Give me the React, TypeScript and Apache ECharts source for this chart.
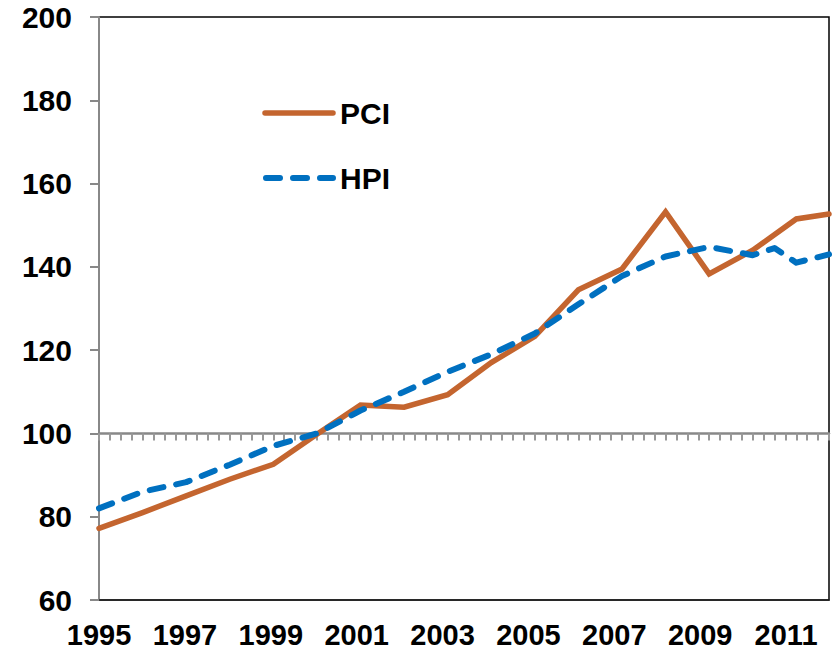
import React, { useEffect, useRef } from "react";
import * as echarts from "echarts";

const pciYears = [1995, 1996, 1997, 1998, 1999, 2000, 2001, 2002, 2003, 2004, 2005, 2006, 2007, 2008, 2009, 2010, 2011, 2011.75];
const pciValues = [77.2, 81, 85, 89, 92.6, 99.8, 106.8, 106.3, 109.3, 117, 123.3, 134.5, 139.5, 153.2, 138.3, 144, 151.5, 152.7];

const hpiYears = [1995, 1996, 1997, 1998, 1999, 2000, 2001, 2002, 2003, 2004, 2005, 2006, 2007, 2008, 2009, 2010, 2010.5, 2011, 2011.75];
const hpiValues = [82, 86, 88.3, 92.5, 97, 100, 105.5, 110, 114.8, 119, 124, 131, 137.8, 142.5, 144.8, 142.8, 144.5, 141, 143];

const yearLabels = ["1995", "1996", "1997", "1998", "1999", "2000", "2001", "2002", "2003", "2004", "2005", "2006", "2007", "2008", "2009", "2010", "2011", "2012"];

const yTicks = { min: 60, max: 200, interval: 20 };
const xRange = { min: 1995, max: 2011.75, tick: 0.25 };
const baseline = 100;
const legendNames = ["PCI", "HPI"];

const FONT = "'Liberation Sans', Arial, sans-serif";
const ORANGE = "#C4652F";
const BLUE = "#0070C0";

export default function App() {
  const ref = useRef<HTMLDivElement>(null);
  useEffect(() => {
    if (!ref.current) return;
    const chart = echarts.init(ref.current, null, { renderer: "svg" });
    const gridTop = 17;
    const gridBottom = 51;
    const plotH = 651 - gridTop - gridBottom;
    const baseH = plotH * (yTicks.max - baseline) / (yTicks.max - yTicks.min);
    chart.setOption({
      animation: false,
      backgroundColor: "#fff",
      textStyle: { fontFamily: FONT },
      grid: [
        { left: 99, right: 5, top: gridTop, bottom: gridBottom, show: true, borderColor: "#000", borderWidth: 1.5 },
        { left: 99, right: 5, top: gridTop, height: baseH },
      ],
      graphic: [
        { type: "line", shape: { x1: 265, y1: 113, x2: 333, y2: 113 }, style: { stroke: ORANGE, lineWidth: 5.5, lineCap: "round" } },
        { type: "text", left: 340, top: 98, style: { text: legendNames[0], font: `bold 30px ${FONT}`, fill: "#000" } },
        { type: "line", shape: { x1: 266, y1: 178, x2: 333, y2: 178 }, style: { stroke: BLUE, lineWidth: 6, lineCap: "round", lineDash: [14, 13] } },
        { type: "text", left: 340, top: 163, style: { text: legendNames[1], font: `bold 30px ${FONT}`, fill: "#000" } },
      ],
      xAxis: [
        {
          type: "value",
          gridIndex: 0,
          position: "bottom",
          min: xRange.min,
          max: xRange.max,
          show: false,
        },
        {
          type: "value",
          gridIndex: 1,
          min: xRange.min,
          max: xRange.max,
          interval: xRange.tick,
          axisLine: { onZero: false, lineStyle: { color: "#888", width: 2.5 } },
          axisTick: { show: true, length: 7, lineStyle: { color: "#999", width: 2 } },
          splitLine: { show: false },
          axisLabel: { show: false },
        },
        {
          type: "category",
          gridIndex: 0,
          position: "bottom",
          data: yearLabels,
          boundaryGap: false,
          axisLine: { onZero: false, lineStyle: { color: "#222", width: 1.5 } },
          axisTick: { show: false },
          splitLine: { show: false },
          axisLabel: { interval: 1, fontFamily: FONT, fontWeight: "bold", fontSize: 29, lineHeight: 29, color: "#000", margin: 20 },
        },
      ],
      yAxis: [
        {
          type: "value",
          gridIndex: 0,
          min: yTicks.min,
          max: yTicks.max,
          interval: yTicks.interval,
          axisLine: { show: true, lineStyle: { color: "#888", width: 2 } },
          axisTick: { show: true, length: 9, lineStyle: { color: "#888", width: 2 } },
          splitLine: { show: false },
          axisLabel: { fontFamily: FONT, fontWeight: "bold", fontSize: 30, color: "#000", margin: 27 },
        },
        {
          type: "value",
          gridIndex: 1,
          min: baseline,
          max: yTicks.max,
          show: false,
        },
      ],
      series: [
        {
          name: "PCI",
          type: "line",
          xAxisIndex: 0,
          yAxisIndex: 0,
          symbol: "none",
          data: pciYears.map((y, i) => [y, pciValues[i]]),
          itemStyle: { color: ORANGE },
          lineStyle: { color: ORANGE, width: 5.5, cap: "round", join: "miter" },
          z: 3,
        },
        {
          name: "HPI",
          type: "line",
          xAxisIndex: 0,
          yAxisIndex: 0,
          symbol: "none",
          data: hpiYears.map((y, i) => [y, hpiValues[i]]),
          itemStyle: { color: BLUE },
          lineStyle: { color: BLUE, width: 6, type: [14, 13], cap: "round", join: "round" },
          z: 4,
        },
      ],
    });
    return () => chart.dispose();
  }, []);
  return <div ref={ref} style={{ width: 834, height: 651, position: "absolute", left: 0, top: 0 }} />;
}
